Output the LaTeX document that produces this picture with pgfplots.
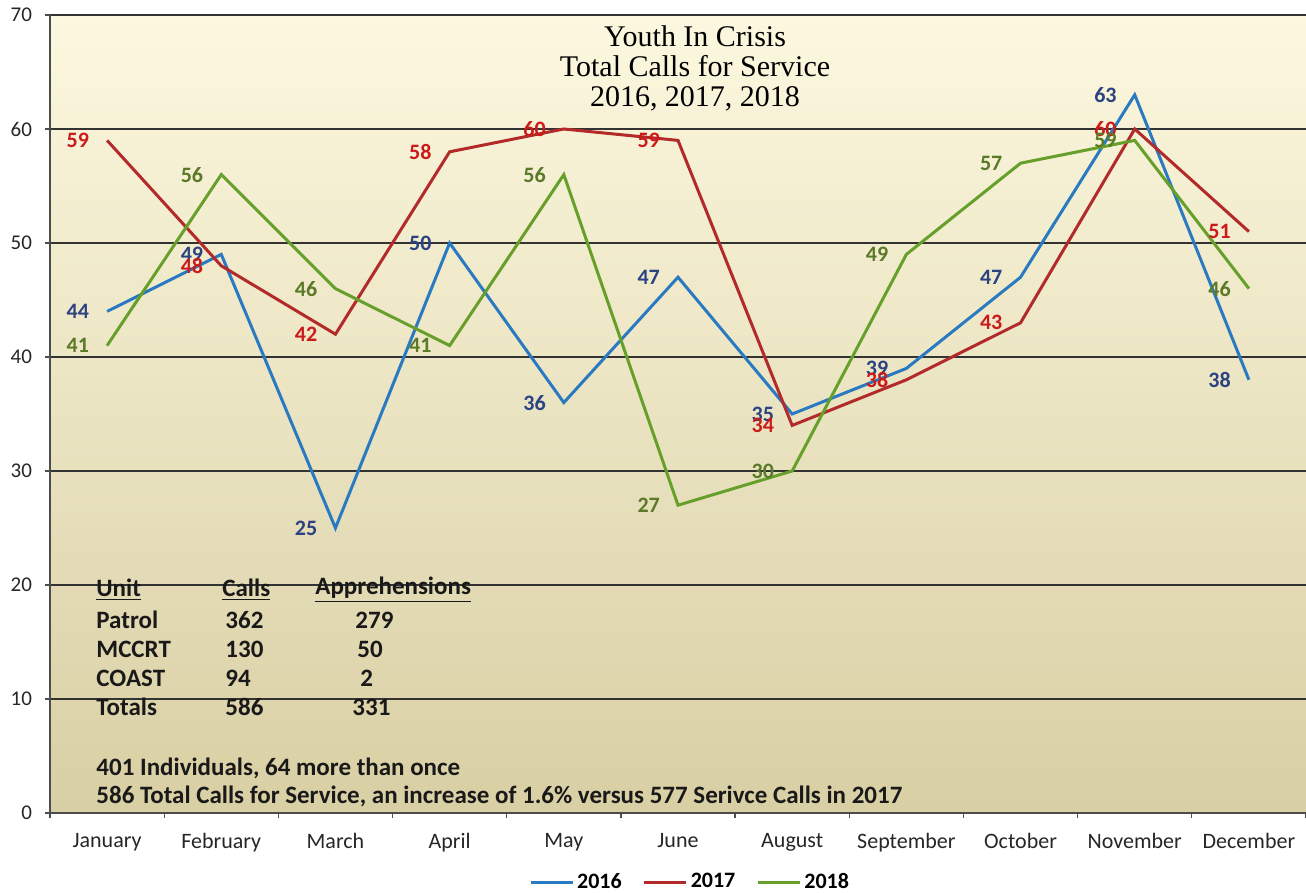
\documentclass[border=0pt]{standalone}
\usepackage{pgfplots}
\pgfplotsset{compat=1.18}
\usepackage{fontspec}
\setmainfont{Carlito}
\newfontfamily\titlefont{Liberation Serif}

\definecolor{l2016}{HTML}{2A7AC2}
\definecolor{l2017}{HTML}{B22A2A}
\definecolor{l2018}{HTML}{66A02A}
\definecolor{t2016}{HTML}{2C4382}
\definecolor{t2017}{HTML}{CC1A1A}
\definecolor{t2018}{HTML}{5A7A28}
\definecolor{bgtop}{HTML}{FCF8DF}
\definecolor{bgbot}{HTML}{D9CFA4}

\begin{document}
\begin{tikzpicture}
\begin{axis}[
  scale only axis, width=628pt, height=399pt,
  xmin=-0.5, xmax=10.5, ymin=0, ymax=70,
  axis lines*=left,
  axis line style={black!70, line width=0.6pt},
  axis background/.style={top color=bgtop, bottom color=bgbot},
  xtick={0,...,10},
  xticklabels={January,February,March,April,May,June,August,September,October,November,December},
  minor xtick={-0.5,0.5,...,10.5},
  major x tick style={draw=none},
  minor x tick style={black!70, line width=0.6pt},
  ytick={0,10,...,70},
  ytick style={black!70, line width=0.6pt},
  tick align=outside,
  major tick length=2.5pt, minor tick length=2.5pt,
  ymajorgrids,
  grid style={black!80, line width=0.6pt},
  xticklabel style={font=\fontsize{11}{13}\selectfont, text=black!85, yshift=-4pt},
  yticklabel style={font=\fontsize{10.5}{12}\selectfont, text=black!85, xshift=-3pt},
  /pgf/number format/assume math mode=true,
  clip=false,
  legend style={at={(0.51,-0.0865)}, anchor=center, draw=none, fill=none,
    legend columns=-1, font=\bfseries\fontsize{11}{13}\selectfont,
    nodes={inner sep=1.5pt},
    /tikz/every even column/.append style={column sep=9pt}},
  legend image code/.code={\draw[#1] (0pt,0pt) -- (21pt,0pt);},
  nodes near coords,
  every node near coord/.append style={anchor=east, xshift=-5pt, font=\bfseries\fontsize{11}{13}\selectfont},
]
\addplot[l2016, line width=1.5pt, nodes near coords style={text=t2016}] coordinates {
  (0,44) (1,49) (2,25) (3,50) (4,36) (5,47) (6,35) (7,39) (8,47) (9,63) (10,38)};
\addplot[l2017, line width=1.5pt, nodes near coords style={text=t2017}] coordinates {
  (0,59) (1,48) (2,42) (3,58) (4,60) (5,59) (6,34) (7,38) (8,43) (9,60) (10,51)};
\addplot[l2018, line width=1.5pt, nodes near coords style={text=t2018}] coordinates {
  (0,41) (1,56) (2,46) (3,41) (4,56) (5,27) (6,30) (7,49) (8,57) (9,59) (10,46)};
\legend{2016,2017,2018}
\end{axis}

% title
\node[align=center, font=\titlefont\fontsize{15}{15}\selectfont, text=black] at (322.5pt,372.5pt)
  {Youth In Crisis\\Total Calls for Service\\2016, 2017, 2018};

% summary table
\begin{scope}[every node/.style={anchor=west, inner sep=0pt, font=\bfseries\fontsize{12.5}{14}\selectfont, text=black!90}]
  \node at (23pt,111.5pt) {\underline{Unit}};
  \node at (86pt,111.5pt) {\underline{Calls}};
  \node at (132.5pt,111.5pt) {\underline{Apprehensions}};
  \node at (23pt,96.5pt) {Patrol};
  \node at (87.5pt,96.5pt) {362};
  \node at (152.5pt,96.5pt) {279};
  \node at (23pt,82pt) {MCCRT};
  \node at (87.5pt,82pt) {130};
  \node at (153.5pt,82pt) {50};
  \node at (23pt,67.5pt) {COAST};
  \node at (87.5pt,67.5pt) {94};
  \node at (155pt,67.5pt) {2};
  \node at (23pt,53pt) {Totals};
  \node at (87.5pt,53pt) {586};
  \node at (151pt,53pt) {331};
  \node at (23pt,22.5pt) {401 Individuals, 64 more than once};
  \node at (23pt,8.5pt) {586 Total Calls for Service, an increase of 1.6\% versus 577 Serivce Calls in 2017};
\end{scope}

\pgfresetboundingbox
\useasboundingbox (-25pt,-40pt) rectangle (628pt,406.5pt);
\end{tikzpicture}
\end{document}
